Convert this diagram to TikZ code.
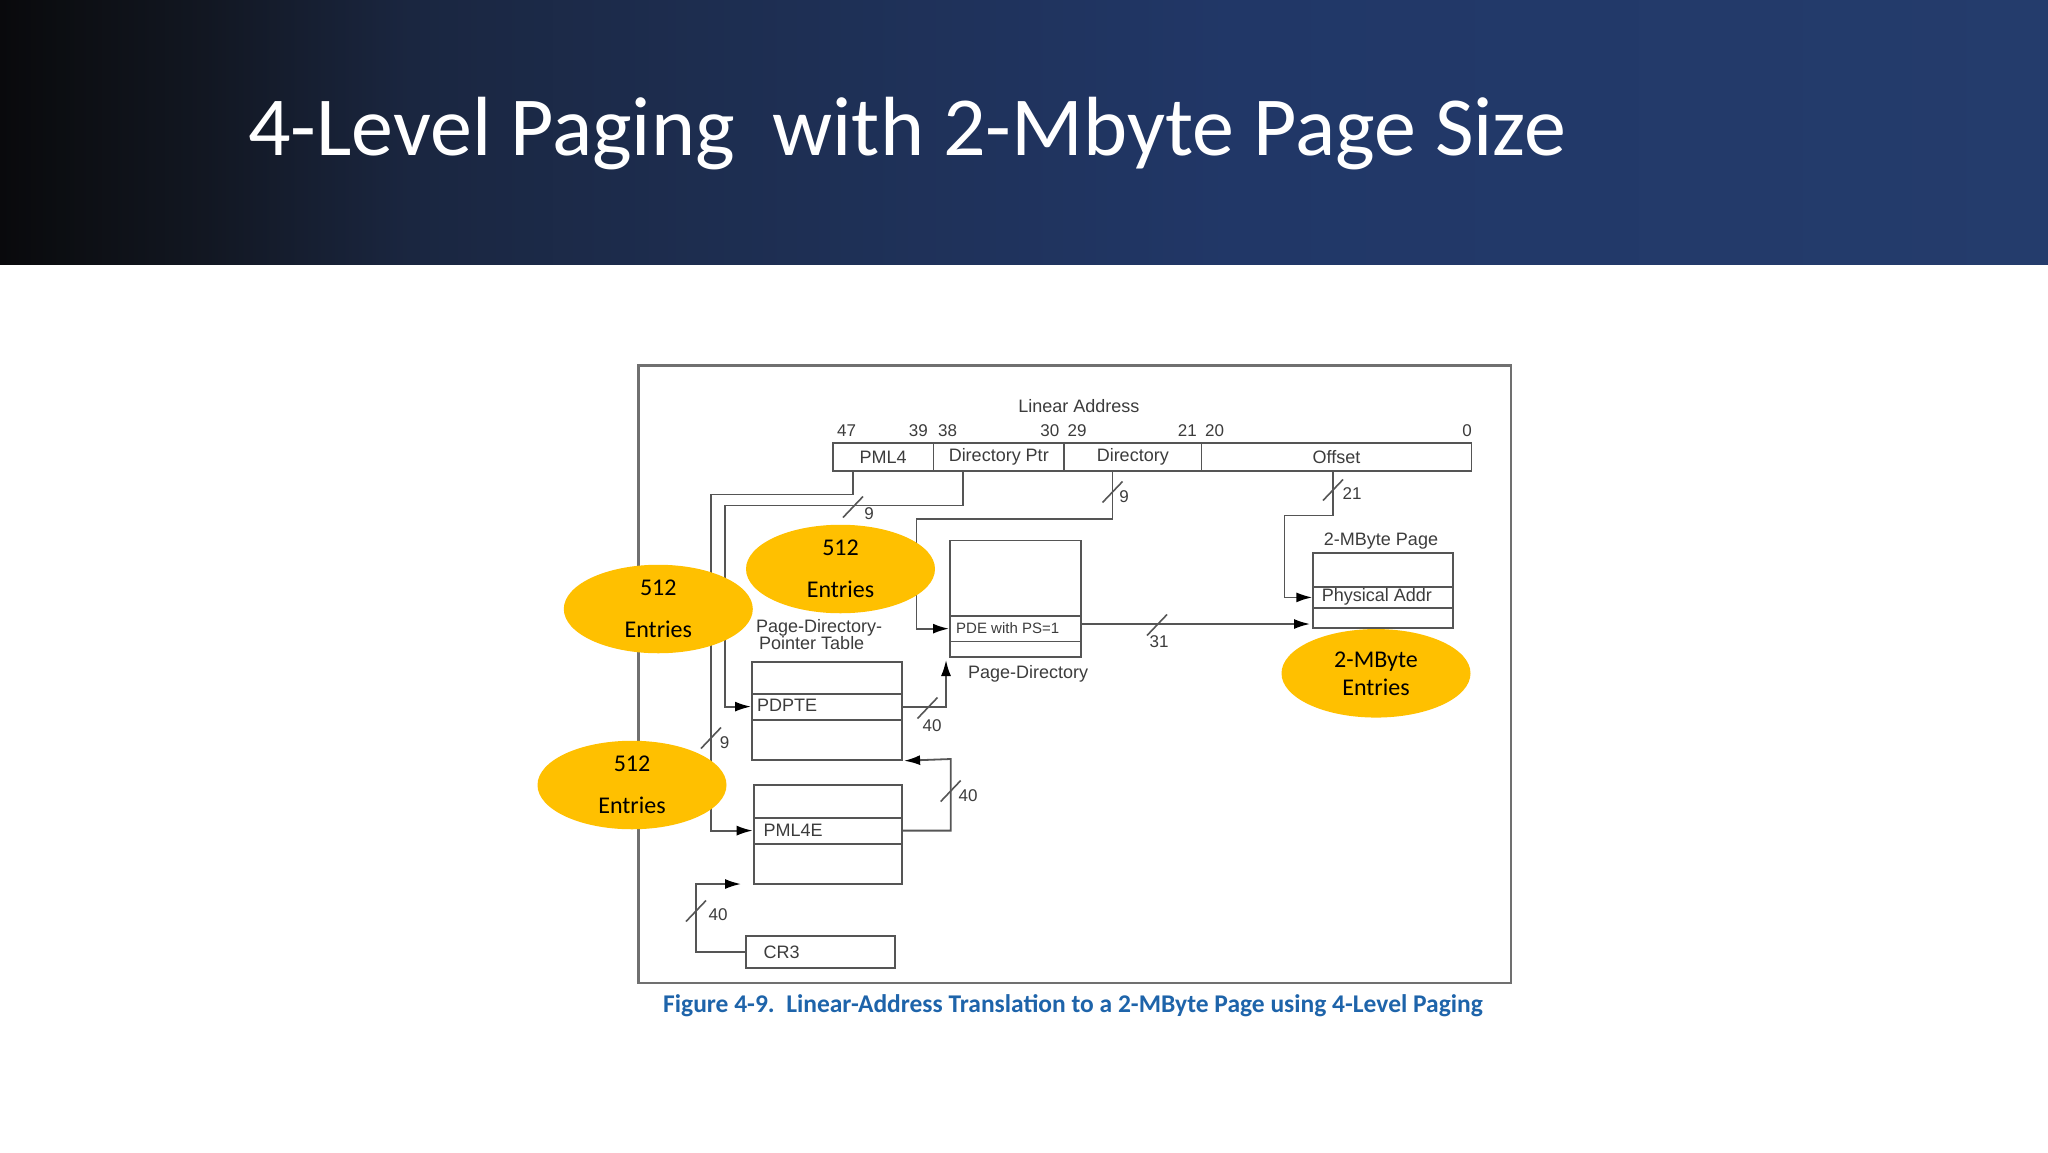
\documentclass[tikz,border=0pt]{standalone}
\usepackage{fontspec}
\setmainfont{Liberation Sans}
\newfontfamily\calfont{Carlito}
\newfontfamily\capfont{Carlito}
\usetikzlibrary{arrows.meta,shapes.geometric}
\definecolor{bandA}{HTML}{09090C}
\definecolor{bandB}{HTML}{0C0E12}
\definecolor{bandC}{HTML}{121722}
\definecolor{bandD}{HTML}{1A2640}
\definecolor{bandE}{HTML}{1D2D4F}
\definecolor{bandF}{HTML}{213767}
\definecolor{bandG}{HTML}{243C6C}
\definecolor{linegray}{HTML}{555555}
\definecolor{framegray}{HTML}{707070}
\definecolor{txtgray}{HTML}{3C3C3C}
\definecolor{gold}{HTML}{FFC000}
\definecolor{capblue}{HTML}{1E64AA}
\pgfdeclarehorizontalshading{band}{100bp}{color(0bp)=(bandA); color(25bp)=(bandA); color(26.5bp)=(bandB); color(30bp)=(bandC); color(35bp)=(bandD); color(42bp)=(bandE); color(55bp)=(bandF); color(75bp)=(bandG); color(100bp)=(bandG)}
\tikzset{
  conn/.style={draw=linegray, line width=1.8pt},
  arr/.style={conn, -{Latex[length=16pt,width=10pt,color=black]}},
  slash/.style={draw=linegray, line width=1.6pt},
  cell/.style={draw=linegray, line width=1.8pt, anchor=north west, inner sep=0pt},
  lbl/.style={text=txtgray, inner sep=0pt, font=\fontsize{18}{20}\selectfont},
  small/.style={text=txtgray, inner sep=0pt, font=\fontsize{15}{17}\selectfont},
  num/.style={text=txtgray, inner sep=0pt, font=\fontsize{17}{19}\selectfont},
  ell/.style={ellipse, fill=gold, draw=none, inner sep=0pt, minimum width=189pt, minimum height=88.5pt, align=center, text=black},
}
\begin{document}
\begin{tikzpicture}[x=1pt,y=-1pt]
\useasboundingbox (0,0) rectangle (2048,1152);
\fill[white] (0,0) rectangle (2048,1152);
\shade[shading=band] (0,0) rectangle (2048,264);
\node[anchor=base west, text=white, inner sep=0pt, font=\calfont\fontsize{84}{90}\selectfont] (title) at (248,155) {4-Level Paging\ \ with 2-Mbyte Page Size};

% frame
\node[draw=framegray, line width=2.2pt, anchor=north west, inner sep=0pt, minimum width=872.5pt, minimum height=617.8pt] (frame) at (637.4,364.4) {};

% linear address
\node[lbl, anchor=base] (la) at (1078.8,412) {Linear Address};
\node[num, anchor=base west] (b47) at (837,436) {47};
\node[num, anchor=base east] (b39) at (928,436) {39};
\node[num, anchor=base west] (b38) at (938,436) {38};
\node[num, anchor=base east] (b30) at (1059.5,436) {30};
\node[num, anchor=base west] (b29) at (1067.5,436) {29};
\node[num, anchor=base east] (b21) at (1197,436) {21};
\node[num, anchor=base west] (b20) at (1205,436) {20};
\node[num, anchor=base east] (b0) at (1472,436) {0};
\node[cell, lbl, minimum width=100.5pt, minimum height=28pt] (fpml4) at (832,442) {PML4};
\node[cell, lbl, minimum width=130.7pt, minimum height=28pt] (fdirptr) at (932.5,442) {Directory Ptr};
\node[cell, lbl, minimum width=137.3pt, minimum height=28pt] (fdir) at (1063.2,442) {Directory};
\node[cell, lbl, minimum width=270.1pt, minimum height=28pt] (foff) at (1200.5,442) {Offset};

% page directory
\node[cell, minimum width=131pt, minimum height=75.5pt] (pdtop) at (949,539.5) {};
\node[cell, minimum width=131pt, minimum height=25.5pt] (pde) at (949,615) {};
\node[cell, minimum width=131pt, minimum height=15.5pt] (pdbot) at (949,640.5) {};
\node[small, anchor=base west] (pdetxt) at (956,633) {PDE with PS=1};
\node[lbl, anchor=base west] (pdlbl) at (968,678) {Page-Directory};

% 2-MByte page
\node[lbl, anchor=base] (pglbl) at (1381,545) {2-MByte Page};
\node[cell, minimum width=140pt, minimum height=33.4pt] (pgtop) at (1312.3,552.3) {};
\node[cell, minimum width=140pt, minimum height=21.6pt] (phys) at (1312.3,585.7) {};
\node[cell, minimum width=140pt, minimum height=20pt] (pgbot) at (1312.3,607.3) {};
\node[lbl, anchor=base west] (phystxt) at (1321.7,601) {Physical Addr};

% PDPT
\node[lbl, anchor=base west] (pdptl1) at (756,632) {Page-Directory-};
\node[lbl, anchor=base west] (pdptl2) at (759,649) {Pointer Table};
\node[cell, minimum width=149.8pt, minimum height=31.7pt] (pdpttop) at (751,661) {};
\node[cell, minimum width=149.8pt, minimum height=26pt] (pdpte) at (751,692.7) {};
\node[cell, minimum width=149.8pt, minimum height=40.3pt] (pdptbot) at (751,718.7) {};
\node[lbl, anchor=base west] (pdptetxt) at (757,711.7) {PDPTE};

% PML4 table
\node[cell, minimum width=148pt, minimum height=32.7pt] (pmltop) at (752.7,784) {};
\node[cell, minimum width=148pt, minimum height=26pt] (pml4e) at (752.7,816.7) {};
\node[cell, minimum width=148pt, minimum height=40pt] (pmlbot) at (752.7,842.7) {};
\node[lbl, anchor=base west] (pml4etxt) at (763.3,836.7) {PML4E};

% CR3
\node[cell, minimum width=149pt, minimum height=32.3pt] (cr3) at (745,935) {};
\node[lbl, anchor=base west] (cr3txt) at (763.3,958) {CR3};

% bend coordinates
\coordinate (p1) at (853.3,494.5); \coordinate (p2) at (711,494.5);
\coordinate (q1) at (962.7,505.5); \coordinate (q2) at (725.3,505.5);
\coordinate (r1) at (1112.5,519);  \coordinate (r2) at (916.5,519);
\coordinate (s1) at (1333,515.5);  \coordinate (s2) at (1284.5,515.5);
\coordinate (t1) at (1310,624);
\coordinate (u1) at (946,660);
\coordinate (v1) at (950.7,759);
\coordinate (w1) at (696,884); \coordinate (w2) at (741,884);

% connectors
\draw[arr] (p1 |- fpml4.south) -- (p1) -- (p2) |- (pml4e.west);
\draw[arr] (q1 |- fdirptr.south) -- (q1) -- (q2) |- (pdpte.west);
\draw[arr] (r1 |- fdir.south) -- (r1) -- (r2) |- (pde.west);
\draw[arr] (s1 |- foff.south) -- (s1) -- (s2) |- (phys.west);
\draw[arr] (pde.east |- t1) -- (t1);
\draw[arr] (pdpte.east) -| (u1);
\draw[arr, shorten >=1.5pt] (pml4e.east) -| (v1) -- (pdptbot.south east);
\draw[arr] (cr3.west) -| (w1) -- (w2);

% slashes and widths
\coordinate (k1) at (853,507);   \draw[slash] (k1) ++(-10,10.5) -- ++(20,-21);
\node[num] (n1) at (869,514) {9};
\coordinate (k2) at (1112.5,492); \draw[slash] (k2) ++(-10,10.5) -- ++(20,-21);
\node[num] (n2) at (1124,497) {9};
\coordinate (k3) at (1333,490);  \draw[slash] (k3) ++(-10,10.5) -- ++(20,-21);
\node[num] (n3) at (1352,494) {21};
\coordinate (k4) at (1157,625);  \draw[slash] (k4) ++(-10,10.5) -- ++(20,-21);
\node[num] (n4) at (1159,642) {31};
\coordinate (k5) at (927.5,708); \draw[slash] (k5) ++(-10,10.5) -- ++(20,-21);
\node[num] (n5) at (932,726) {40};
\coordinate (k6) at (950.7,791); \draw[slash] (k6) ++(-10,10.5) -- ++(20,-21);
\node[num] (n6) at (968,796) {40};
\coordinate (k7) at (696,911);   \draw[slash] (k7) ++(-10,10.5) -- ++(20,-21);
\node[num] (n7) at (718,915) {40};
\coordinate (k8) at (711,738);   \draw[slash] (k8) ++(-10,10.5) -- ++(20,-21);
\node[num] (n8) at (724.5,743) {9};

% ellipses
\node[ell, font=\calfont\fontsize{24}{42}\selectfont] (e1) at (658.3,609) {512\\Entries};
\node[ell, font=\calfont\fontsize{24}{42}\selectfont] (e2) at (840.5,569) {512\\Entries};
\node[ell, font=\calfont\fontsize{24}{42}\selectfont] (e3) at (632,785) {512\\Entries};
\node[ell, font=\calfont\fontsize{24}{28}\selectfont] (e4) at (1376,673.3) {2-MByte\\Entries};

% caption
\node[anchor=base, text=capblue, inner sep=0pt, font=\capfont\bfseries\fontsize{25.5}{28}\selectfont] (cap) at (1073,1012) {Figure 4-9.\ \ Linear-Address Translation to a 2-MByte Page using 4-Level Paging};
\end{tikzpicture}
\end{document}
